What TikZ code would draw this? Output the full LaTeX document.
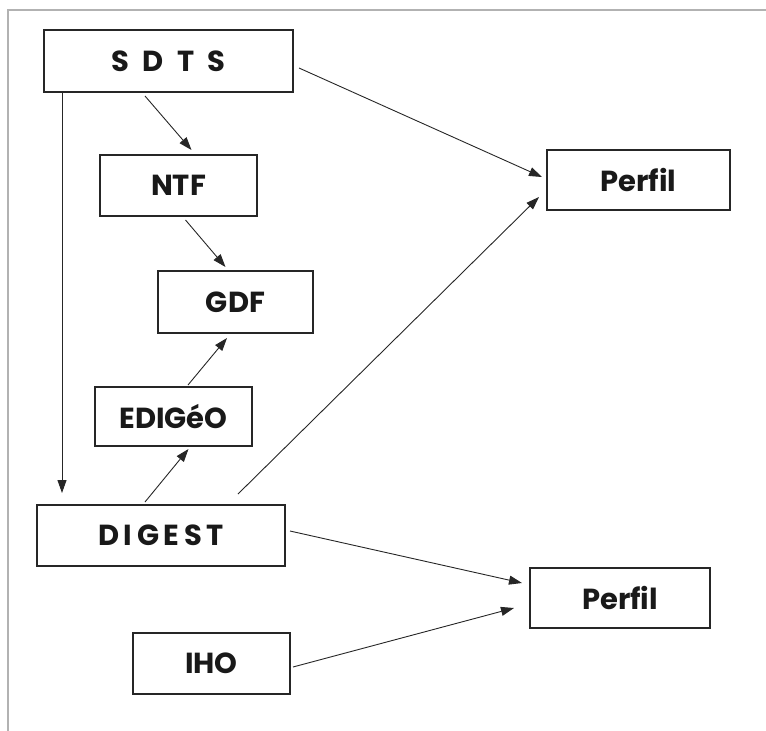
\documentclass[tikz,border=0pt]{standalone}
\usepackage{fontspec}
\setmainfont{Poppins}
\usetikzlibrary{arrows.meta,calc}
\begin{document}
\begin{tikzpicture}[x=1pt,y=-1pt,
  box/.style={draw=black!85,line width=2pt,rectangle,inner sep=0pt,
    font=\fontsize{29}{32}\selectfont\bfseries,text=black!90},
  link/.style={draw=black!85,line width=0.9pt,
    -{Triangle[length=13pt,width=9pt]}},
  frame/.style={draw=black!30,line width=1.2pt}]
\useasboundingbox (0,0) rectangle (766,731);
% page frame on the top and left edges
\draw[frame] (766,10) -- (8,10) -- (8,731);

% format boxes
\node[box,minimum width=249pt,minimum height=62pt] (sdts) at (168.5,61)
  {\addfontfeature{LetterSpace=25}S D T S};
\node[box,minimum width=157pt,minimum height=61pt] (ntf) at (178.5,185.5) {NTF};
\node[box,minimum width=155pt,minimum height=62pt] (gdf) at (235.5,302) {GDF};
\node[box,minimum width=157pt,minimum height=59pt] (edigeo) at (173.5,416.5) {EDIGéO};
\node[box,minimum width=248pt,minimum height=61pt] (digest) at (161,535.5)
  {\addfontfeature{LetterSpace=16}DIGEST};
\node[box,minimum width=157pt,minimum height=61pt] (iho) at (211.5,663.5) {IHO};
\node[box,minimum width=183pt,minimum height=60pt] (perfilA) at (638.5,180) {Perfil};
\node[box,minimum width=180pt,minimum height=60pt] (perfilB) at (620,598) {Perfil};

% connectors
\draw[link] ($(sdts.east)+(5,7)$) -- ($(perfilA.west)+(-4,-3)$);
\draw[link] ($(sdts.south)+(-23.5,3)$) -- ($(ntf.north)+(13,-4)$);
\draw[link] ($(sdts.south west)+(19,0)$) -- ($(digest.north west)+(26,-11)$);
\draw[link] ($(ntf.south)+(7,3)$) -- ($(gdf.north)+(-10,-3)$);
\draw[link] ($(edigeo.north)+(14.5,-1)$) -- ($(gdf.south)+(-8.5,4)$);
\draw[link] ($(digest.north)+(-16,-2)$) -- ($(edigeo.south)+(15,2)$);
\draw[link] ($(digest.north)+(77,-10)$) -- ($(perfilA.west)+(-7,17)$);
\draw[link] ($(digest.east)+(4,-4.5)$) -- ($(perfilB.west)+(-7,-15)$);
\draw[link] ($(iho.east)+(2,3.5)$) -- ($(perfilB.west)+(-15,10)$);
\end{tikzpicture}
\end{document}
